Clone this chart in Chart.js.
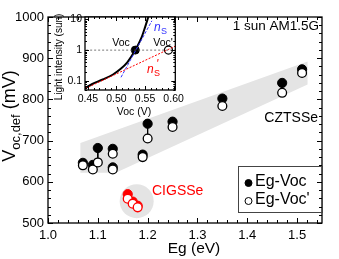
<!DOCTYPE html>
<html>
<head>
<meta charset="utf-8">
<script src="https://cdn.jsdelivr.net/npm/chart.js@4.4.1/dist/chart.umd.min.js"></script>
<style>
  html, body { margin: 0; padding: 0; background: #ffffff; }
  #wrap { position: relative; width: 339px; height: 259px; }
  #mainChart { position: absolute; left: 0; top: 0; }
  #insetChart { position: absolute; left: 48px; top: 5px; }
</style>
</head>
<body>
<div id="wrap">
  <canvas id="mainChart" width="339" height="259"></canvas>
  <canvas id="insetChart" width="140" height="115"></canvas>
</div>
<script>
/* ---------------- DATA: main plot ---------------- */

const egCZ       = [1.07, 1.09, 1.10, 1.13, 1.13, 1.19, 1.20, 1.25, 1.35, 1.47, 1.51];
const vocCZ      = [646, 641, 682, 680, 635, 666, 741, 746, 802, 840, 873];
const vocPrimeCZ = [640, 630, 647, 668, 630, 660, 705, 733, 784, 816, 864];

const egCI       = [1.16, 1.17, 1.18];
const vocCI      = [570, 552, 542];
const vocPrimeCI = [559, 547, 538];

// shaded CZTSSe band (polygon corners) and CIGSSe spot
const bandEg  = [1.065, 1.521, 1.521, 1.136, 1.065];
const bandVoc = [694, 892, 836, 622, 622];
const spotEg  = [1.178];
const spotVoc = [553];

const egTicks  = [1.0, 1.1, 1.2, 1.3, 1.4, 1.5];
const vocTicks = [500, 600, 700, 800, 900, 1000];

/* ---------------- DATA: inset ---------------- */

const curveV   = [0.44, 0.457, 0.476, 0.494, 0.507, 0.519, 0.533, 0.544, 0.550, 0.556];
const curveSun = [0.05, 0.077, 0.11, 0.16, 0.24, 0.40, 1.0, 2.6, 5.5, 12.5];

const nsV    = [0.508, 0.562];
const nsSun  = [0.13, 9.0];
const nspV   = [0.44, 0.605];
const nspSun = [0.05, 1.4];

const oneSunV   = [0.44, 0.61];
const oneSunSun = [1, 1];

const vocPointV  = [0.533];
const vocPointPV = [0.591];

const insetVTicks   = [0.45, 0.50, 0.55, 0.60];
const insetSunTicks = [0.1, 1, 10];

/* ---------------- HELPERS ---------------- */

const pts = (xs, ys) => xs.map((x, i) => ({ x: x, y: ys[i] }));

function pairLinks(xs, a, b) {
    const out = [];
    xs.forEach((x, i) => {
        out.push({ x: x, y: a[i] });
        out.push({ x: x, y: b[i] });
        out.push({ x: x, y: null });
    });
    return out;
}

function range(from, to, step) {
    const out = [];
    for (let v = from; v <= to + step / 1000; v += step) out.push(+v.toFixed(4));
    return out;
}

// inward ticks + box frame
function drawFrame(chart, xMajor, xMinor, yMajor, yMinor, majLen, minLen) {
    const { ctx, chartArea: a, scales } = chart;
    ctx.save();
    ctx.strokeStyle = "#000";
    ctx.lineWidth = 1;
    ctx.beginPath();
    const tick = (list, len) => {
        list.forEach(v => {
            const px = Math.round(scales.x.getPixelForValue(v)) + 0.5;
            if (px < a.left - 0.5 || px > a.right + 0.5) return;
            ctx.moveTo(px, a.bottom); ctx.lineTo(px, a.bottom - len);
            ctx.moveTo(px, a.top); ctx.lineTo(px, a.top + len);
        });
    };
    const tickY = (list, len) => {
        list.forEach(v => {
            const py = Math.round(scales.y.getPixelForValue(v)) + 0.5;
            if (py < a.top - 0.5 || py > a.bottom + 0.5) return;
            ctx.moveTo(a.left, py); ctx.lineTo(a.left + len, py);
            ctx.moveTo(a.right, py); ctx.lineTo(a.right - len, py);
        });
    };
    tick(xMajor, majLen); tick(xMinor, minLen);
    tickY(yMajor, majLen); tickY(yMinor, minLen);
    ctx.stroke();
    ctx.lineWidth = 1.3;
    ctx.strokeRect(a.left, a.top, a.right - a.left, a.bottom - a.top);
    ctx.restore();
}

/* ---------------- MAIN CHART ---------------- */

const FONT = "'Liberation Sans', Arial, sans-serif";

const mainDecor = {
    id: "mainDecor",
    afterDatasetsDraw(chart) {
        drawFrame(chart, egTicks, range(1.0, 1.54, 0.02), vocTicks, range(500, 1000, 20), 5, 3);
        const ctx = chart.ctx;
        ctx.save();
        ctx.fillStyle = "#000";
        ctx.textBaseline = "middle";

        ctx.font = "13.5px " + FONT;
        ctx.textAlign = "right";
        ctx.fillText("1 sun AM1.5G", 319, 26);
        ctx.font = "14px " + FONT;
        ctx.fillText("CZTSSe", 318, 118);
        ctx.fillStyle = "#ff0000";
        ctx.textAlign = "left";
        ctx.fillText("CIGSSe", 152, 191);

        // x title
        ctx.fillStyle = "#000";
        ctx.textAlign = "center";
        ctx.font = "15.5px " + FONT;
        ctx.fillText("Eg (eV)", 194, 249);

        // y title with subscript
        ctx.translate(15, 116);
        ctx.rotate(-Math.PI / 2);
        ctx.textBaseline = "alphabetic";
        ctx.textAlign = "left";
        const big = "18px " + FONT, small = "13px " + FONT;
        ctx.font = big;  const w1 = ctx.measureText("V").width;
        ctx.font = small; const w2 = ctx.measureText("oc,def").width;
        ctx.font = big;  const w3 = ctx.measureText(" (mV)").width;
        let x0 = -(w1 + w2 + w3) / 2;
        ctx.font = big;   ctx.fillText("V", x0, 0);
        ctx.font = small; ctx.fillText("oc,def", x0 + w1, 5);
        ctx.font = big;   ctx.fillText(" (mV)", x0 + w1 + w2, 0);
        ctx.restore();

        // legend box
        ctx.save();
        ctx.strokeStyle = "#444";
        ctx.lineWidth = 1;
        ctx.strokeRect(238.5, 166.5, 84, 46);
        ctx.font = "16px " + FONT;
        ctx.textBaseline = "middle";
        ctx.fillStyle = "#000";
        const ds = chart.data.datasets;
        [[ds[3], 182], [ds[4], 200]].forEach(([d, y]) => {
            ctx.beginPath();
            ctx.arc(248.5, y + 1, 3.5, 0, Math.PI * 2);
            ctx.fillStyle = d.backgroundColor === "#ffffff" ? "#fff" : "#000";
            ctx.fill();
            ctx.lineWidth = 1;
            ctx.strokeStyle = "#000";
            ctx.stroke();
            ctx.fillStyle = "#000";
            ctx.fillText(d.label, 255, y);
        });
        ctx.restore();
    }
};

new Chart(document.getElementById("mainChart"), {
    type: "scatter",
    data: {
        datasets: [
            {
                label: "band",
                data: pts(bandEg, bandVoc),
                showLine: true,
                fill: "shape",
                backgroundColor: "#e4e4e4",
                borderWidth: 0,
                pointRadius: 0,
                order: 6
            },
            {
                label: "spot",
                data: pts(spotEg, spotVoc),
                backgroundColor: "#e4e4e4",
                borderWidth: 0,
                pointRadius: 17,
                order: 5
            },
            {
                label: "links",
                data: pairLinks(egCZ, vocCZ, vocPrimeCZ),
                showLine: true,
                spanGaps: false,
                borderColor: "#000",
                borderWidth: 1,
                pointRadius: 0,
                order: 4
            },
            {
                label: "Eg-Voc",
                data: pts(egCZ, vocCZ),
                backgroundColor: "#000000",
                borderColor: "#000000",
                borderWidth: 1,
                pointRadius: 4.6,
                order: 3
            },
            {
                label: "Eg-Voc'",
                data: pts(egCZ, vocPrimeCZ),
                backgroundColor: "#ffffff",
                borderColor: "#000000",
                borderWidth: 1.3,
                pointRadius: 4.4,
                order: 2
            },
            {
                label: "CIGSSe Voc",
                data: pts(egCI, vocCI),
                backgroundColor: "#ff0000",
                borderColor: "#ff0000",
                borderWidth: 1,
                pointRadius: 4.6,
                order: 1
            },
            {
                label: "CIGSSe Voc'",
                data: pts(egCI, vocPrimeCI),
                backgroundColor: "#ffffff",
                borderColor: "#ff0000",
                borderWidth: 1.3,
                pointRadius: 4.4,
                order: 0
            }
        ]
    },
    options: {
        responsive: false,
        animation: false,
        devicePixelRatio: 1,
        layout: { padding: { top: 6, right: 2, left: 0, bottom: 0 } },
        plugins: { legend: { display: false }, tooltip: { enabled: false } },
        scales: {
            x: {
                type: "linear",
                min: 1.0,
                max: 1.55,
                grid: { display: false, drawTicks: false },
                border: { display: false },
                afterBuildTicks: s => { s.ticks = egTicks.map(v => ({ value: v })); },
                afterFit: s => { s.height = 36; },
                ticks: {
                    color: "#000",
                    padding: 6,
                    maxRotation: 0,
                    font: { family: FONT, size: 13, lineHeight: 1 },
                    callback: v => v.toFixed(1)
                }
            },
            y: {
                type: "linear",
                min: 500,
                max: 1000,
                grid: { display: false, drawTicks: false },
                border: { display: false },
                afterBuildTicks: s => { s.ticks = vocTicks.map(v => ({ value: v })); },
                afterFit: s => { s.width = 48; },
                ticks: {
                    color: "#000",
                    padding: 4,
                    font: { family: FONT, size: 13, lineHeight: 1 },
                    callback: v => String(v)
                }
            }
        }
    },
    plugins: [mainDecor]
});

/* ---------------- INSET ---------------- */

const insetMinorSun = [0.05, 0.06, 0.07, 0.08, 0.09, 0.2, 0.3, 0.4, 0.5, 0.6, 0.7, 0.8, 0.9,
                       2, 3, 4, 5, 6, 7, 8, 9];

const insetDecor = {
    id: "insetDecor",
    beforeDraw(chart) {
        const { ctx, chartArea: a } = chart;
        ctx.save();
        ctx.fillStyle = "#fff";
        ctx.fillRect(a.left, a.top, a.right - a.left, a.bottom - a.top);
        ctx.restore();
    },
    afterDatasetsDraw(chart) {
        drawFrame(chart, insetVTicks, range(0.45, 0.60, 0.01), insetSunTicks, insetMinorSun, 4, 2);
        const ctx = chart.ctx;
        ctx.save();
        ctx.textBaseline = "alphabetic";
        ctx.font = "10.5px " + FONT;
        ctx.fillStyle = "#000";
        ctx.textAlign = "center";
        ctx.fillText("Voc", 73, 41);
        ctx.fillText("Voc'", 115, 41);
        ctx.fillText("Voc (V)", 86, 110);

        // n_s labels
        const ital = "italic 12px " + FONT, sub = "9px " + FONT;
        ctx.textAlign = "left";
        ctx.fillStyle = "#3333ff";
        ctx.font = ital; ctx.fillText("n", 106, 26);
        ctx.font = sub;  ctx.fillText("S", 113, 29);
        ctx.fillStyle = "#ff0000";
        ctx.font = ital; ctx.fillText("n", 99, 68);
        ctx.font = sub;  ctx.fillText("S", 106, 71);
        ctx.font = ital; ctx.fillText("'", 108, 63);

        ctx.fillStyle = "#000";
        ctx.translate(14, 52);
        ctx.rotate(-Math.PI / 2);
        ctx.textAlign = "center";
        ctx.font = "10px " + FONT;
        ctx.fillText("Light intensity (sun)", 0, 0);
        ctx.restore();
    }
};

new Chart(document.getElementById("insetChart"), {
    type: "scatter",
    data: {
        datasets: [
            {
                label: "1 sun",
                data: pts(oneSunV, oneSunSun),
                showLine: true,
                borderColor: "#555",
                borderWidth: 0.8,
                borderDash: [2, 2],
                pointRadius: 0
            },
            {
                label: "ns'",
                data: pts(nspV, nspSun),
                showLine: true,
                borderColor: "#ff0000",
                borderWidth: 1,
                borderDash: [2, 1.5],
                pointRadius: 0
            },
            {
                label: "ns",
                data: pts(nsV, nsSun),
                showLine: true,
                borderColor: "#3333ff",
                borderWidth: 1,
                borderDash: [3, 1.5],
                pointRadius: 0
            },
            {
                label: "curve",
                data: pts(curveV, curveSun),
                showLine: true,
                cubicInterpolationMode: "monotone",
                borderColor: "#000",
                borderWidth: 2,
                pointRadius: 0
            },
            {
                label: "Voc",
                data: pts(vocPointV, [1]),
                backgroundColor: "#000",
                borderColor: "#000",
                pointRadius: 4
            },
            {
                label: "Voc'",
                data: pts(vocPointPV, [1]),
                backgroundColor: "#fff",
                borderColor: "#000",
                borderWidth: 1.2,
                pointRadius: 4
            }
        ]
    },
    options: {
        responsive: false,
        animation: false,
        devicePixelRatio: 1,
        layout: { padding: { top: 12, right: 10, left: 0, bottom: 0 } },
        plugins: { legend: { display: false }, tooltip: { enabled: false } },
        scales: {
            x: {
                type: "linear",
                min: 0.445,
                max: 0.603,
                grid: { display: false, drawTicks: false },
                border: { display: false },
                afterBuildTicks: s => { s.ticks = insetVTicks.map(v => ({ value: v })); },
                afterFit: s => { s.height = 30; },
                ticks: {
                    color: "#000",
                    padding: 4,
                    maxRotation: 0,
                    font: { family: FONT, size: 10.5, lineHeight: 1 },
                    callback: v => v.toFixed(2)
                }
            },
            y: {
                type: "logarithmic",
                min: 0.05,
                max: 12,
                grid: { display: false, drawTicks: false },
                border: { display: false },
                afterBuildTicks: s => { s.ticks = insetSunTicks.map(v => ({ value: v })); },
                afterFit: s => { s.width = 37; },
                ticks: {
                    color: "#000",
                    padding: 3,
                    font: { family: FONT, size: 10.5, lineHeight: 1 },
                    callback: v => String(v)
                }
            }
        }
    },
    plugins: [insetDecor]
});
</script>
</body>
</html>
